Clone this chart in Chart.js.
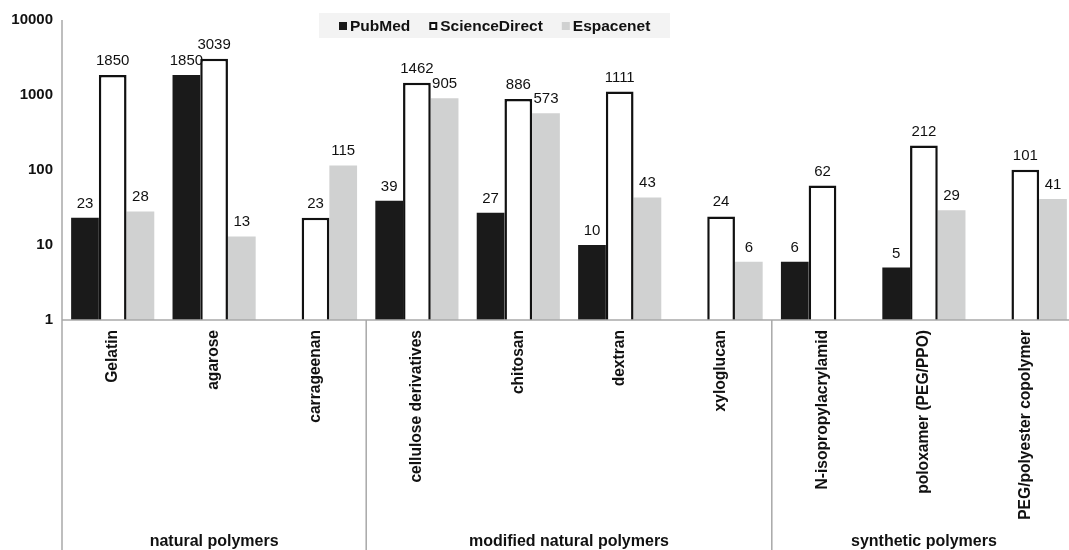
<!DOCTYPE html>
<html>
<head>
<meta charset="utf-8">
<script src="https://cdn.jsdelivr.net/npm/chart.js@4.4.1/dist/chart.umd.min.js"></script>
<style>
html,body{margin:0;padding:0;background:#fff;overflow:hidden;}
#wrap{position:absolute;left:0;top:0;width:1076px;height:550px;}
</style>
</head>
<body>
<div id="wrap"><canvas id="c"></canvas></div>
<script>
const categories = ['Gelatin','agarose','carrageenan','cellulose derivatives','chitosan','dextran','xyloglucan','N-isopropylacrylamid','poloxamer (PEG/PPO)','PEG/polyester copolymer'];
const groupNames = ['natural polymers','modified natural polymers','synthetic polymers'];
const groupSizes = [3,4,3];
const seriesNames = ['PubMed','ScienceDirect','Espacenet'];
const pubmed = [23,1850,null,39,27,10,null,6,5,null];
const scienceDirect = [1850,3039,23,1462,886,1111,24,62,212,101];
const espacenet = [28,13,115,905,573,43,6,null,29,41];
const yTicks = [1,10,100,1000,10000];

const FONT = "'Liberation Sans', Arial, Helvetica, sans-serif";
const TEXT = '#111';
const AXIS = '#a8a8a8';
const colPub = '#1a1a1a';
const colEsp = '#d0d1d1';

const extras = {
  id:'extras',
  afterDatasetsDraw(chart){
    const ctx = chart.ctx;
    ctx.save();
    ctx.font = '15px ' + FONT;
    ctx.fillStyle = TEXT;
    ctx.textAlign = 'center';
    ctx.textBaseline = 'alphabetic';
    chart.data.datasets.forEach((ds,i)=>{
      const meta = chart.getDatasetMeta(i);
      meta.data.forEach((el,j)=>{
        const v = ds.data[j];
        if (v === null || v === undefined) return;
        ctx.fillText(String(v), el.x, el.y - 10);
      });
    });
    ctx.restore();
  },
  afterDraw(chart){
    const ctx = chart.ctx;
    const ca = chart.chartArea;
    const xs = chart.scales.x;
    const H = chart.height;
    ctx.save();
    ctx.strokeStyle = AXIS;
    ctx.lineWidth = 1.5;
    ctx.beginPath();
    ctx.moveTo(ca.left, ca.top);
    ctx.lineTo(ca.left, H);
    ctx.stroke();
    ctx.beginPath();
    ctx.moveTo(ca.left, ca.bottom);
    ctx.lineTo(ca.right, ca.bottom);
    ctx.stroke();
    let start = 0;
    ctx.font = 'bold 16px ' + FONT;
    ctx.fillStyle = TEXT;
    ctx.textAlign = 'center';
    ctx.textBaseline = 'middle';
    const half = (xs.getPixelForValue(1) - xs.getPixelForValue(0)) / 2;
    groupSizes.forEach((n,g)=>{
      const end = start + n - 1;
      const cx = (xs.getPixelForValue(start) + xs.getPixelForValue(end)) / 2;
      ctx.fillText(groupNames[g], cx, 542);
      if (g < groupSizes.length - 1) {
        const sx = xs.getPixelForValue(end) + half;
        ctx.beginPath();
        ctx.moveTo(sx, ca.bottom);
        ctx.lineTo(sx, H);
        ctx.stroke();
      }
      start += n;
    });
    ctx.fillStyle = '#f3f3f3';
    ctx.fillRect(319, 13, 351, 25);
    ctx.font = 'bold 15.5px ' + FONT;
    ctx.textAlign = 'left';
    ctx.textBaseline = 'middle';
    const ly = 26;
    let x = 339;
    const items = [
      {name:seriesNames[0], fill:colPub, stroke:null},
      {name:seriesNames[1], fill:'#fff', stroke:'#111'},
      {name:seriesNames[2], fill:colEsp, stroke:null}
    ];
    items.forEach(it=>{
      ctx.fillStyle = it.fill;
      ctx.fillRect(x, ly-4, 8, 8);
      if (it.stroke){
        ctx.strokeStyle = it.stroke;
        ctx.lineWidth = 2;
        ctx.strokeRect(x+1, ly-3, 6, 6);
      }
      ctx.fillStyle = TEXT;
      ctx.fillText(it.name, x + 11, ly + 1);
      x += 11 + ctx.measureText(it.name).width + 19;
    });
    ctx.restore();
  }
};

new Chart(document.getElementById('c'), {
  type:'bar',
  data:{
    labels:categories,
    datasets:[
      {label:seriesNames[0], data:pubmed, backgroundColor:colPub, borderWidth:0},
      {label:seriesNames[1], data:scienceDirect, backgroundColor:'#ffffff', borderColor:'#111', borderWidth:2.5, borderSkipped:'start'},
      {label:seriesNames[2], data:espacenet, backgroundColor:colEsp, borderWidth:0}
    ]
  },
  options:{
    responsive:true,
    maintainAspectRatio:false,
    animation:false,
    layout:{padding:{top:20,left:0,right:0,bottom:0}},
    datasets:{bar:{categoryPercentage:0.82, barPercentage:1.0}},
    plugins:{legend:{display:false}, tooltip:{enabled:false}},
    scales:{
      x:{
        grid:{display:false, drawTicks:false},
        border:{display:false},
        ticks:{
          minRotation:90, maxRotation:90, autoSkip:false, padding:10,
          color:TEXT, font:{family:FONT, size:15.6, weight:'bold'}
        },
        afterFit(s){ s.height = 230; }
      },
      y:{
        type:'logarithmic',
        min:1, max:10000,
        grid:{display:false, drawTicks:false},
        border:{display:false},
        afterBuildTicks(s){ s.ticks = yTicks.map(v=>({value:v})); },
        ticks:{
          padding:9, color:TEXT, font:{family:FONT, size:15, weight:'bold'},
          callback(v){ return String(v); }
        },
        afterFit(s){ s.width = 62; }
      }
    }
  },
  plugins:[extras]
});
</script>
</body>
</html>
